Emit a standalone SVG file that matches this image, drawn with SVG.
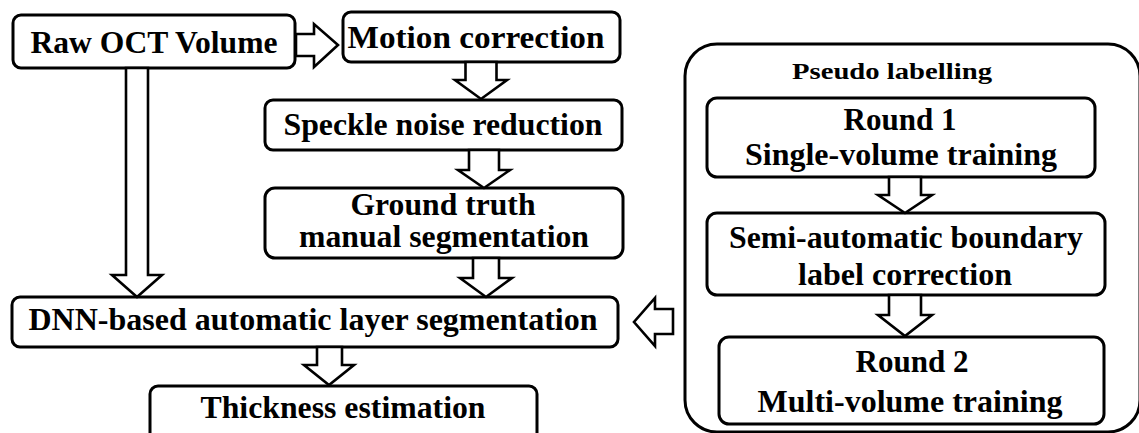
<svg xmlns="http://www.w3.org/2000/svg" width="1139" height="433" viewBox="0 0 1139 433">
  <style>
    .box { fill: #fff; stroke: #000; stroke-width: 3; }
    .arrow { fill: #fff; stroke: #000; stroke-width: 2.6; stroke-linejoin: miter; }
    text { font-family: 'Liberation Serif', 'Times New Roman', Times, serif; font-weight: 700; font-size: 31px; fill: #000; text-anchor: middle; }
    .ts { font-size: 23px; }
  </style>
  <rect width="1139" height="433" fill="#fff"/>

  <!-- pseudo labelling container -->
  <g id="pseudo-labelling">
    <rect class="box" x="685" y="44" width="455" height="388" rx="32" ry="32"/>
    <text class="ts" x="892" y="79" textLength="200" lengthAdjust="spacingAndGlyphs">Pseudo labelling</text>
  </g>

  <g id="raw-oct">
    <rect class="box" x="13" y="15" width="282" height="53" rx="8"/>
    <text x="154" y="53" textLength="247" lengthAdjust="spacingAndGlyphs">Raw OCT Volume</text>
  </g>
  <g id="motion">
    <rect class="box" x="343" y="12" width="277" height="50" rx="8"/>
    <text x="476" y="48" textLength="257" lengthAdjust="spacingAndGlyphs">Motion correction</text>
  </g>
  <g id="speckle">
    <rect class="box" x="265" y="100" width="357" height="50" rx="8"/>
    <text x="443" y="135" textLength="319" lengthAdjust="spacingAndGlyphs">Speckle noise reduction</text>
  </g>
  <g id="ground-truth">
    <rect class="box" x="265" y="188" width="358" height="70" rx="10"/>
    <text x="443" y="215" textLength="185" lengthAdjust="spacingAndGlyphs">Ground truth</text>
    <text x="444" y="247" textLength="290" lengthAdjust="spacingAndGlyphs">manual segmentation</text>
  </g>
  <g id="dnn">
    <rect class="box" x="12" y="297" width="606" height="50" rx="8"/>
    <text x="313" y="330" textLength="569" lengthAdjust="spacingAndGlyphs">DNN-based automatic layer segmentation</text>
  </g>
  <g id="thickness">
    <rect class="box" x="150" y="386" width="387" height="60" rx="8"/>
    <text x="343" y="418" textLength="285" lengthAdjust="spacingAndGlyphs">Thickness estimation</text>
  </g>
  <g id="round1">
    <rect class="box" x="707" y="98" width="388" height="79" rx="10"/>
    <text x="900" y="130" textLength="113" lengthAdjust="spacingAndGlyphs">Round 1</text>
    <text x="901" y="165" textLength="312" lengthAdjust="spacingAndGlyphs">Single-volume training</text>
  </g>
  <g id="semi-auto">
    <rect class="box" x="707" y="213" width="398" height="82" rx="10"/>
    <text x="906" y="248" textLength="354" lengthAdjust="spacingAndGlyphs">Semi-automatic boundary</text>
    <text x="905" y="285" textLength="214" lengthAdjust="spacingAndGlyphs">label correction</text>
  </g>
  <g id="round2">
    <rect class="box" x="719" y="337" width="385" height="87" rx="10"/>
    <text x="912" y="372" textLength="113" lengthAdjust="spacingAndGlyphs">Round 2</text>
    <text x="910" y="412" textLength="305" lengthAdjust="spacingAndGlyphs">Multi-volume training</text>
  </g>

  <!-- block-arrow connectors -->
  <g id="connectors">
    <!-- raw -> motion -->
    <polygon class="arrow" points="296,34 314,34 314,24 338,45 314,67 314,56 296,56"/>
    <!-- motion -> speckle -->
    <polygon class="arrow" points="465.5,62 496.5,62 496.5,80 507,80 481,99 455,80 465.5,80"/>
    <!-- speckle -> ground truth -->
    <polygon class="arrow" points="469,150 499,150 499,170 510,170 484,188 458,170 469,170"/>
    <!-- ground truth -> dnn -->
    <polygon class="arrow" points="473,258 499,258 499,278 512,278 486,297 460,278 473,278"/>
    <!-- raw -> dnn -->
    <polygon class="arrow" points="126,68 148,68 148,275 162,275 137,297 112,275 126,275"/>
    <!-- dnn -> thickness -->
    <polygon class="arrow" points="317,347 342,347 342,365 354,365 329,385 304,365 317,365"/>
    <!-- round 1 -> semi-automatic -->
    <polygon class="arrow" points="889,177 921,177 921,195 932,195 905,213 878,195 889,195"/>
    <!-- semi-automatic -> round 2 -->
    <polygon class="arrow" points="889,295 921,295 921,315 932,315 905,336 878,315 889,315"/>
    <!-- pseudo labelling -> dnn -->
    <polygon class="arrow" points="673,309 673,334 655,334 655,346 634,322 655,298 655,309"/>
  </g>
</svg>
